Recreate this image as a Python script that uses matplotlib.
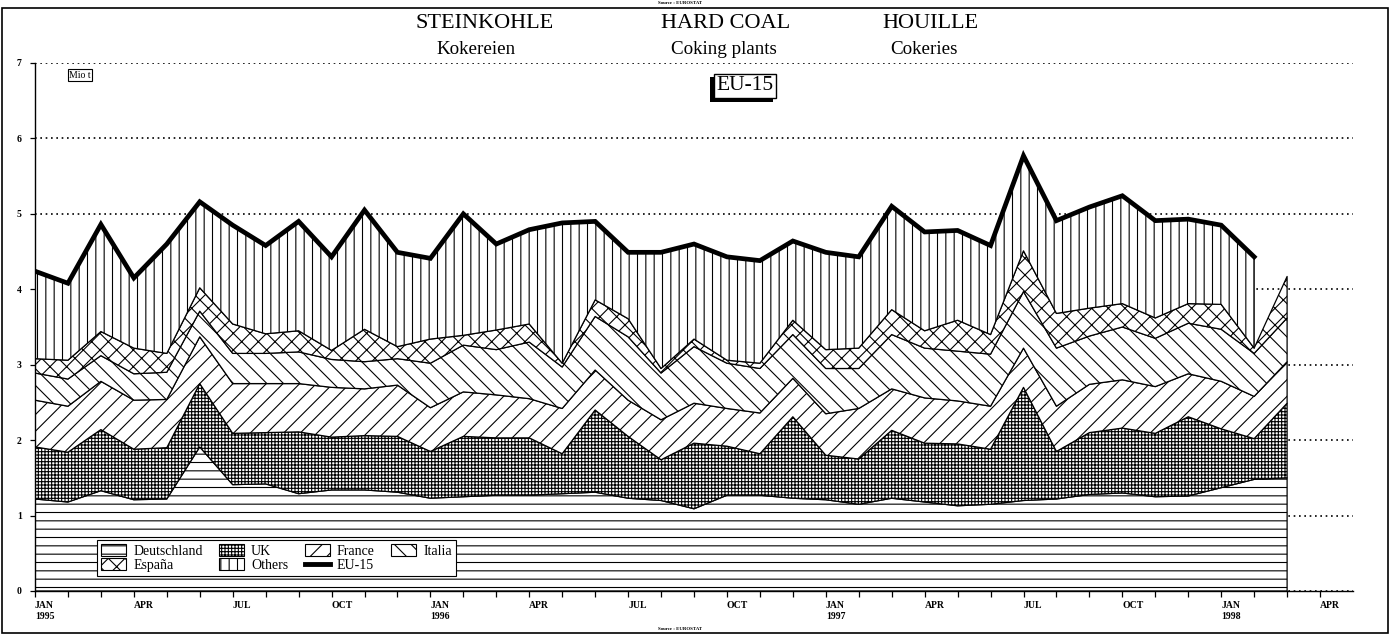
import numpy as np
import matplotlib
matplotlib.use('Agg')
from matplotlib import pyplot as plt
import matplotlib.patches as mpatches
import matplotlib.patheffects as pe
from matplotlib.lines import Line2D

plt.rcParams['font.family'] = ['Liberation Serif', 'DejaVu Serif']
plt.rcParams['hatch.linewidth'] = 0.8

# monthly values, Jan 1995 .. Mar 1998 (Mio t)
months = np.arange(39)
deutschland = [1.22, 1.18, 1.33, 1.21, 1.22, 1.91, 1.41, 1.42, 1.29, 1.34, 1.34, 1.31, 1.23,
               1.25, 1.27, 1.27, 1.29, 1.31, 1.23, 1.20, 1.09, 1.27, 1.27, 1.23, 1.21, 1.15,
               1.23, 1.18, 1.13, 1.15, 1.20, 1.22, 1.28, 1.30, 1.25, 1.26, 1.37, 1.48, 1.50]
uk = [0.69, 0.66, 0.81, 0.67, 0.68, 0.84, 0.68, 0.68, 0.82, 0.70, 0.72, 0.74, 0.62,
      0.80, 0.76, 0.76, 0.53, 1.09, 0.82, 0.54, 0.87, 0.65, 0.55, 1.08, 0.59, 0.60,
      0.90, 0.78, 0.82, 0.73, 1.50, 0.63, 0.82, 0.86, 0.84, 1.05, 0.78, 0.54, 0.99]
france = [0.62, 0.61, 0.64, 0.65, 0.64, 0.62, 0.66, 0.65, 0.64, 0.66, 0.62, 0.68, 0.58,
          0.59, 0.57, 0.52, 0.60, 0.53, 0.48, 0.53, 0.53, 0.50, 0.54, 0.51, 0.55, 0.67,
          0.55, 0.60, 0.57, 0.57, 0.52, 0.60, 0.64, 0.64, 0.62, 0.57, 0.63, 0.56, 0.55]
italia = [0.36, 0.36, 0.34, 0.35, 0.36, 0.34, 0.40, 0.40, 0.42, 0.37, 0.36, 0.35, 0.59,
          0.62, 0.60, 0.75, 0.55, 0.71, 0.84, 0.62, 0.75, 0.60, 0.59, 0.58, 0.60, 0.53,
          0.72, 0.66, 0.66, 0.69, 0.75, 0.77, 0.64, 0.70, 0.64, 0.67, 0.69, 0.57, 0.58]
espana = [0.19, 0.25, 0.32, 0.34, 0.25, 0.31, 0.39, 0.26, 0.28, 0.12, 0.43, 0.16, 0.32,
          0.13, 0.26, 0.24, 0.05, 0.22, 0.24, 0.06, 0.10, 0.04, 0.07, 0.19, 0.25, 0.27,
          0.33, 0.23, 0.41, 0.26, 0.54, 0.46, 0.37, 0.31, 0.27, 0.26, 0.33, 0.07, 0.55]
others = [1.16, 1.02, 1.42, 0.93, 1.45, 1.14, 1.31, 1.17, 1.45, 1.24, 1.58, 1.25, 1.07,
          1.61, 1.14, 1.25, 1.86, 1.04, 0.88, 1.54, 1.26, 1.37, 1.36, 1.05, 1.29, 1.21,
          1.37, 1.31, 1.19, 1.18, 1.26, 1.23, 1.34, 1.43, 1.29, 1.12, 1.05, 1.21, np.nan]

tick_labels = ['JAN\n1995', 'APR', 'JUL', 'OCT', 'JAN\n1996', 'APR', 'JUL', 'OCT',
               'JAN\n1997', 'APR', 'JUL', 'OCT', 'JAN\n1998', 'APR']

layers = [('Deutschland', deutschland, '--'),
          ('UK', uk, '+++++'),
          ('France', france, '//'),
          ('Italia', italia, '\\\\'),
          ('España', espana, 'xx'),
          ('Others', others, '||')]

fig = plt.figure(figsize=(13.96, 6.35), dpi=100)
ax = fig.add_axes([35/1396, 44/635, 1318/1396, 528/635])

bottom = np.zeros(len(months))
for name, vals, hatch in layers:
    top = bottom + np.array(vals, dtype=float)
    ax.fill_between(months, bottom, top, facecolor='white', edgecolor='black',
                    hatch=hatch, linewidth=0.9, zorder=2)
    bottom = top
eu15 = bottom
ax.plot(months, eu15, color='black', lw=3.4, zorder=4, solid_joinstyle='miter')

ax.set_xlim(0, 40)
ax.set_ylim(0, 7)
ax.set_yticks(range(8))
ax.set_yticklabels([str(i) for i in range(8)], fontsize=7, fontweight='bold')
ax.set_xticks(np.arange(40))
lbls = []
for i in range(40):
    lbls.append(tick_labels[i // 3] if i % 3 == 0 else '')
ax.set_xticklabels(lbls, fontsize=7, fontweight='bold')
for t in ax.get_xticklabels():
    t.set_ha('left')
ax.tick_params(axis='x', direction='out', length=4.5, width=0.9, pad=3)
ax.tick_params(axis='y', direction='out', length=3.5, width=0.9, pad=6)
for s in ['top', 'right']:
    ax.spines[s].set_visible(False)
ax.spines['left'].set_linewidth(1.0)
ax.spines['bottom'].set_linewidth(1.0)
ax.set_axisbelow(True)
ax.grid(axis='y', color='black', linestyle=(0, (1, 2.2)), linewidth=1.2)

# legend
handles = []
for name, vals, hatch in layers:
    handles.append(mpatches.Patch(facecolor='white', edgecolor='black', hatch=hatch,
                                  linewidth=0.8, label=name))
handles.append(Line2D([], [], color='black', lw=3.5, label='EU-15'))
order = [0, 4, 1, 5, 2, 6, 3]
leg = ax.legend(handles=[handles[i] for i in order], ncol=4, loc='lower left',
                bbox_to_anchor=(0.047, 0.028), fontsize=10, frameon=True, fancybox=False,
                edgecolor='black', framealpha=1, handlelength=1.8, handleheight=0.9,
                columnspacing=1.2, handletextpad=0.5, borderpad=0.3, labelspacing=0.05,
                borderaxespad=0)
leg.get_frame().set_linewidth(0.8)
leg.set_zorder(6)

# titles
fig.text(485/1396, 1-24/635, 'STEINKOHLE', fontsize=16, ha='center', va='center')
fig.text(476/1396, 1-50/635, 'Kokereien', fontsize=13.7, ha='center', va='center')
fig.text(726/1396, 1-24/635, 'HARD COAL', fontsize=16, ha='center', va='center')
fig.text(724/1396, 1-50/635, 'Coking plants', fontsize=13.7, ha='center', va='center')
fig.text(930/1396, 1-24/635, 'HOUILLE', fontsize=16, ha='center', va='center')
fig.text(924/1396, 1-50/635, 'Cokeries', fontsize=13.7, ha='center', va='center')

eu_box = fig.text(745/1396, 1-86/635, 'EU-15', fontsize=15.5, ha='center', va='center',
                  bbox=dict(boxstyle='square,pad=0.12', fc='white', ec='black', lw=1.0))
eu_box.get_bbox_patch().set_path_effects([
    pe.withSimplePatchShadow(offset=(-2.5, -2.5), shadow_rgbFace='black', alpha=1)])

fig.text(80/1396, 1-75/635, 'Mio t', fontsize=7, ha='center', va='center',
         bbox=dict(boxstyle='square,pad=0.12', fc='white', ec='black', lw=0.8))

fig.text(680/1396, 1-3/635, 'Source : EUROSTAT', fontsize=3.5, fontweight='bold',
         ha='center', va='center')
fig.text(680/1396, 1-629/635, 'Source : EUROSTAT', fontsize=3.5, fontweight='bold',
         ha='center', va='center')

# outer frame
fig.add_artist(mpatches.Rectangle((2/1396, 2/635), 1386/1396, 625/635,
                                  transform=fig.transFigure, fill=False,
                                  edgecolor='black', linewidth=1.2))

fig.savefig('out.png', dpi=100)
